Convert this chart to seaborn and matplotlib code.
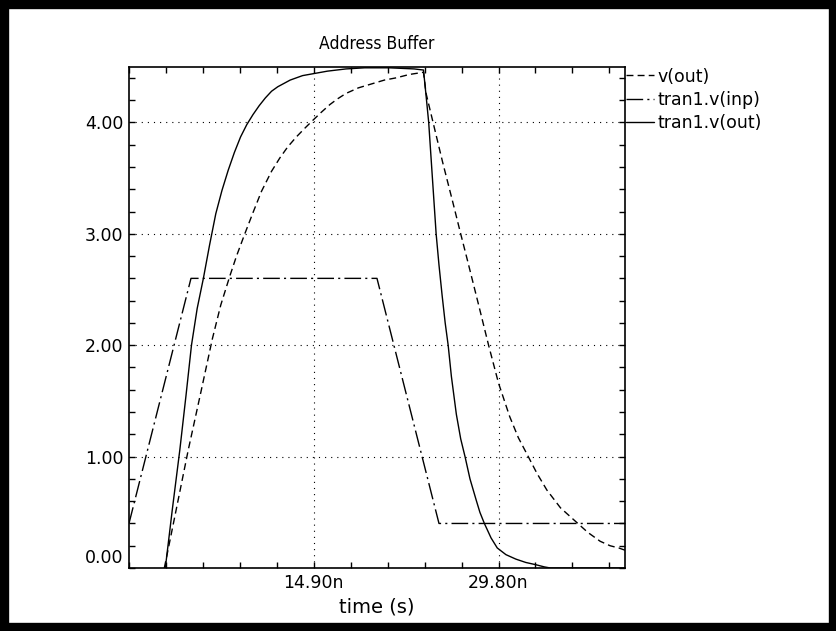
import numpy as np
import pandas as pd
import matplotlib
matplotlib.use("Agg")
import matplotlib.pyplot as plt
import matplotlib.transforms as mtransforms
from matplotlib.patches import Rectangle
from matplotlib.ticker import FixedLocator, MultipleLocator
import seaborn as sns

# ---- waveform data (time in ns, voltage in V) ----
t_inp = [0.0, 5.0, 20.0, 25.0, 40.0]
v_inp = [0.4, 2.6, 2.6, 0.4, 0.4]

t_out_tran = [2.93, 3.5, 4.1, 4.6, 5.04, 5.5, 6.0, 6.5, 7.0, 7.5, 8.0, 8.5,
              9.0, 9.5, 10.0, 10.5, 11.0, 11.5, 12.0, 13.0, 14.0, 15.0, 16.0,
              17.5, 19.0, 21.0, 23.0, 23.75, 23.95, 24.17, 24.47, 24.77, 25.0,
              25.25, 25.5, 25.74, 26.0, 26.4, 26.75, 27.1, 27.5, 28.0, 28.3,
              28.66, 29.2, 29.7, 30.4, 31.2, 32.0, 32.8, 33.5, 34.0, 40.0]
v_out_tran = [0.0, 0.53, 1.06, 1.55, 2.0, 2.33, 2.6, 2.9, 3.18, 3.39, 3.57, 3.73,
              3.87, 3.98, 4.07, 4.15, 4.22, 4.28, 4.32, 4.38, 4.42, 4.44, 4.46,
              4.48, 4.49, 4.49, 4.48, 4.47, 4.25, 4.0, 3.5, 3.0, 2.72,
              2.45, 2.2, 2.0, 1.72, 1.38, 1.16, 1.0, 0.8, 0.61, 0.5,
              0.40, 0.27, 0.18, 0.12, 0.08, 0.05, 0.03, 0.01, 0.0, 0.0]

t_out = [2.85, 3.4, 4.0, 4.78, 5.8, 6.73, 7.4, 8.13, 8.67, 9.34, 10.0, 10.68,
         11.49, 12.16, 12.8, 13.5, 14.2, 14.84, 15.5, 16.2, 16.8, 17.5, 18.5,
         19.7, 20.6, 21.55, 22.6, 23.75, 23.96, 24.5, 25.3, 26.1, 26.75, 27.3,
         28.2, 29.0, 29.8, 30.7, 31.4, 32.2, 32.9, 33.7, 34.8, 36.1, 37.0,
         38.0, 38.8, 39.5, 40.0]
v_out = [0.0, 0.3, 0.63, 1.06, 1.58, 2.06, 2.36, 2.62, 2.80, 3.0, 3.19, 3.38,
         3.56, 3.68, 3.78, 3.87, 3.95, 4.02, 4.09, 4.16, 4.21, 4.26, 4.31,
         4.35, 4.38, 4.40, 4.43, 4.45, 4.26, 4.01, 3.64, 3.29, 3.0, 2.76,
         2.36, 2.0, 1.66, 1.36, 1.17, 1.0, 0.85, 0.70, 0.54, 0.41, 0.32,
         0.24, 0.20, 0.18, 0.16]

x_tick_vals = [14.9, 29.8]
x_tick_labels = ["14.90n", "29.80n"]
y_tick_vals = [0, 1, 2, 3, 4]
y_tick_labels = ["0.00", "1.00", "2.00", "3.00", "4.00"]

sns.set_style("white")
plt.rcParams["font.family"] = ["DejaVu Sans"]

fig = plt.figure(figsize=(8.37, 6.31), dpi=100)
ax = fig.add_axes([0.1541, 0.0998, 0.5926, 0.7945])

series = [
    ("v(out)", t_out, v_out, (0, (5, 3))),
    ("tran1.v(inp)", t_inp, v_inp, (0, (12, 3, 1.5, 3))),
    ("tran1.v(out)", t_out_tran, v_out_tran, "-"),
]
for name, t, v, ls in series:
    df = pd.DataFrame({"time": t, "volt": v})
    sns.lineplot(data=df, x="time", y="volt", ax=ax, color="black",
                 linewidth=1.0, linestyle=ls, label=name, sort=False,
                 estimator=None)

ax.set_xlim(0, 40)
ax.set_ylim(0, 4.5)

ax.xaxis.set_major_locator(FixedLocator(x_tick_vals))
ax.set_xticklabels(x_tick_labels)
ax.xaxis.set_minor_locator(MultipleLocator(2.98))
ax.yaxis.set_major_locator(FixedLocator(y_tick_vals))
ax.set_yticklabels(y_tick_labels)
ax.yaxis.set_minor_locator(MultipleLocator(0.2))

ax.tick_params(which="both", direction="in", length=4, width=1.0,
               top=True, right=True, bottom=True, left=True, color="black")
ax.tick_params(axis="both", which="major", labelsize=12.5, pad=4,
               labelcolor="black")

ax.grid(True, which="major", color="black", linewidth=0.8,
        linestyle=(0, (1, 4.5)))

for sp in ax.spines.values():
    sp.set_color("black")
    sp.set_linewidth(1.2)
    sp.set_visible(True)

ax.set_xlabel("time (s)", fontsize=14, labelpad=4, color="black")
ax.set_ylabel("")
ax.set_title("Address Buffer", fontsize=12.5, pad=13, color="black",
             fontstretch="condensed")

# lift the bottom y label so it sits inside the frame
lab0 = ax.get_yticklabels()[0]
lab0.set_transform(lab0.get_transform() +
                   mtransforms.ScaledTranslation(0, 9 / 72, fig.dpi_scale_trans))

leg = ax.legend(loc="upper left", bbox_to_anchor=(1.0, 1.0), frameon=False,
                borderaxespad=0.0, borderpad=0.05, handlelength=1.6,
                handletextpad=0.2, labelspacing=0.3, fontsize=12.5)
for line in leg.get_lines():
    line.set_linewidth(1.0)
for txt in leg.get_texts():
    txt.set_color("black")

# thick frame around the whole figure
fig.patches.append(Rectangle((0, 0), 1, 1, transform=fig.transFigure,
                             fill=False, edgecolor="black", linewidth=12.5,
                             zorder=10))

fig.savefig("out.png", dpi=100, facecolor="white")
